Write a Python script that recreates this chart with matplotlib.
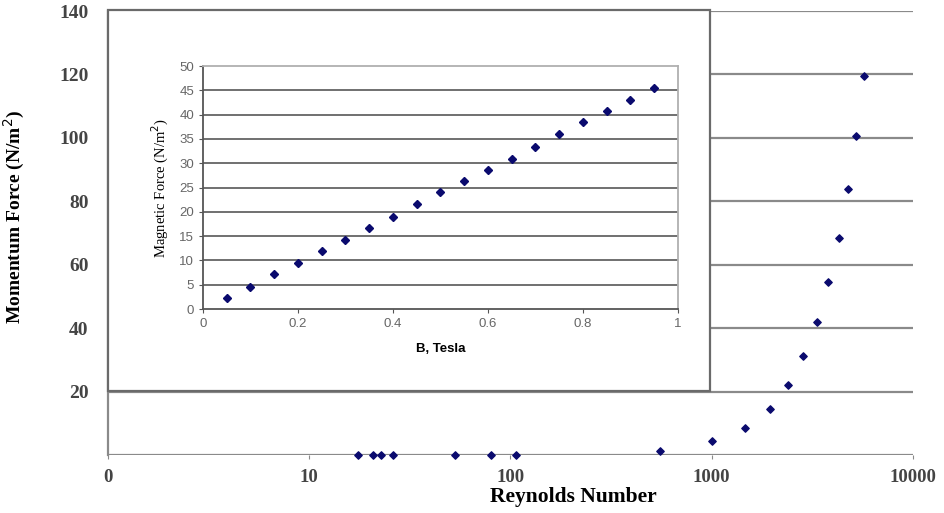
import matplotlib
matplotlib.use('Agg')
import matplotlib.pyplot as plt
from matplotlib.patches import Rectangle

# main chart: Reynolds number vs momentum force
reynolds = [17.5, 20.7, 22.7, 26, 53, 80, 107, 553, 1000, 1470, 1940, 2380,
            2850, 3350, 3800, 4300, 4770, 5220, 5720]
momentum = [0, 0, 0, 0, 0, 0, 0, 1.3, 4.4, 8.5, 14.5, 22.1,
            31.2, 41.9, 54.6, 68.4, 83.9, 100.6, 119.5]
x_ticks = [1, 10, 100, 1000, 10000]
x_tick_labels = ['0', '10', '100', '1000', '10000']
y_ticks = [20, 40, 60, 80, 100, 120, 140]

# inset: magnetic force vs B
b_tesla = [0.05, 0.10, 0.15, 0.20, 0.25, 0.30, 0.35, 0.40, 0.45, 0.50,
           0.55, 0.60, 0.65, 0.70, 0.75, 0.80, 0.85, 0.90, 0.95]
mag_force = [2.2, 4.6, 7.2, 9.5, 12.0, 14.3, 16.7, 19.0, 21.7, 24.1,
             26.3, 28.7, 30.9, 33.4, 36.0, 38.4, 40.7, 43.1, 45.5]

serif = 'Liberation Serif'
sans = 'Liberation Sans'
grid_col = '#8a8a8a'
mark_col = '#0a0a6e'

fig = plt.figure(figsize=(9.45, 5.13), dpi=100)
W, H = 945, 513

def box(l, t, r, b):
    return [l / W, 1 - b / H, (r - l) / W, (b - t) / H]

ax = fig.add_axes(box(108, 11, 913, 455))
ax.set_xscale('log')
ax.set_xlim(1, 10000)
ax.set_ylim(0, 140)
ax.scatter(reynolds, momentum, marker='D', s=14, color=mark_col, zorder=3, clip_on=False)
for v in range(0, 141, 20):
    ax.axhline(v, color=grid_col, lw=1.6, zorder=1)
ax.set_xticks(x_ticks)
ax.set_xticklabels(x_tick_labels)
ax.xaxis.set_minor_locator(matplotlib.ticker.NullLocator())
ax.set_yticks(y_ticks)
ax.tick_params(axis='both', length=3, color=grid_col, labelcolor='#444444', labelsize=14)
ax.tick_params(axis='y', pad=14, length=0)
ax.tick_params(axis='x', pad=7, labelsize=13.5)
for lab in ax.get_xticklabels() + ax.get_yticklabels():
    lab.set_fontfamily(serif)
    lab.set_fontweight('bold')
for s in ['top', 'right']:
    ax.spines[s].set_visible(False)
ax.spines['bottom'].set_visible(False)
ax.spines['left'].set_color(grid_col)
ax.spines['left'].set_linewidth(1.6)
ax.set_ylabel('Momentum Force (N/m$^2$)', family=serif, fontweight='bold', fontsize=14)
ax.yaxis.set_label_coords(-0.10, 0.536)
ax.set_xlabel('Reynolds Number', family=serif, fontweight='bold', fontsize=15.5)
ax.xaxis.set_label_coords(0.578, -0.073)

# inset background frame
frame = Rectangle((108 / W, 1 - 391 / H), (710 - 108) / W, (391 - 10) / H,
                  transform=fig.transFigure, facecolor='white', edgecolor='#6a6a6a',
                  lw=1.6, zorder=5)
fig.patches.append(frame)

ins = fig.add_axes(box(203, 66, 678, 309))
ins.set_zorder(6)
ins.set_xlim(0, 1)
ins.set_ylim(0, 50)
ins.plot(b_tesla, mag_force, 'D', ms=4, color=mark_col, zorder=3)
for v in range(5, 50, 5):
    ins.axhline(v, color='#707070', lw=1.4, zorder=1)
ins.set_xticks([0, 0.2, 0.4, 0.6, 0.8, 1])
ins.set_xticklabels(['0', '0.2', '0.4', '0.6', '0.8', '1'])
ins.set_yticks(range(0, 51, 5))
ins.tick_params(axis='both', length=3, color='#555555', labelcolor='#666666', labelsize=9.5)
for lab in ins.get_xticklabels() + ins.get_yticklabels():
    lab.set_fontfamily(sans)
ins.spines['top'].set_color('#b0b0b0')
ins.spines['right'].set_color('#b0b0b0')
ins.spines['left'].set_color('#555555')
ins.spines['bottom'].set_color('#555555')
for s in ins.spines.values():
    s.set_linewidth(1.3)
ins.set_ylabel('Magnetic Force (N/m$^2$)', family=serif, fontsize=10.5, labelpad=6)
ins.set_xlabel('B, Tesla', family=sans, fontweight='bold', fontsize=9.5, labelpad=9)
fig.text(408 / W, 1 - 40 / H, 'Magnetic Force', family=sans, fontweight='bold',
         fontsize=14, color='#333333', ha='center', va='center')

fig.savefig('out.png', dpi=100)
